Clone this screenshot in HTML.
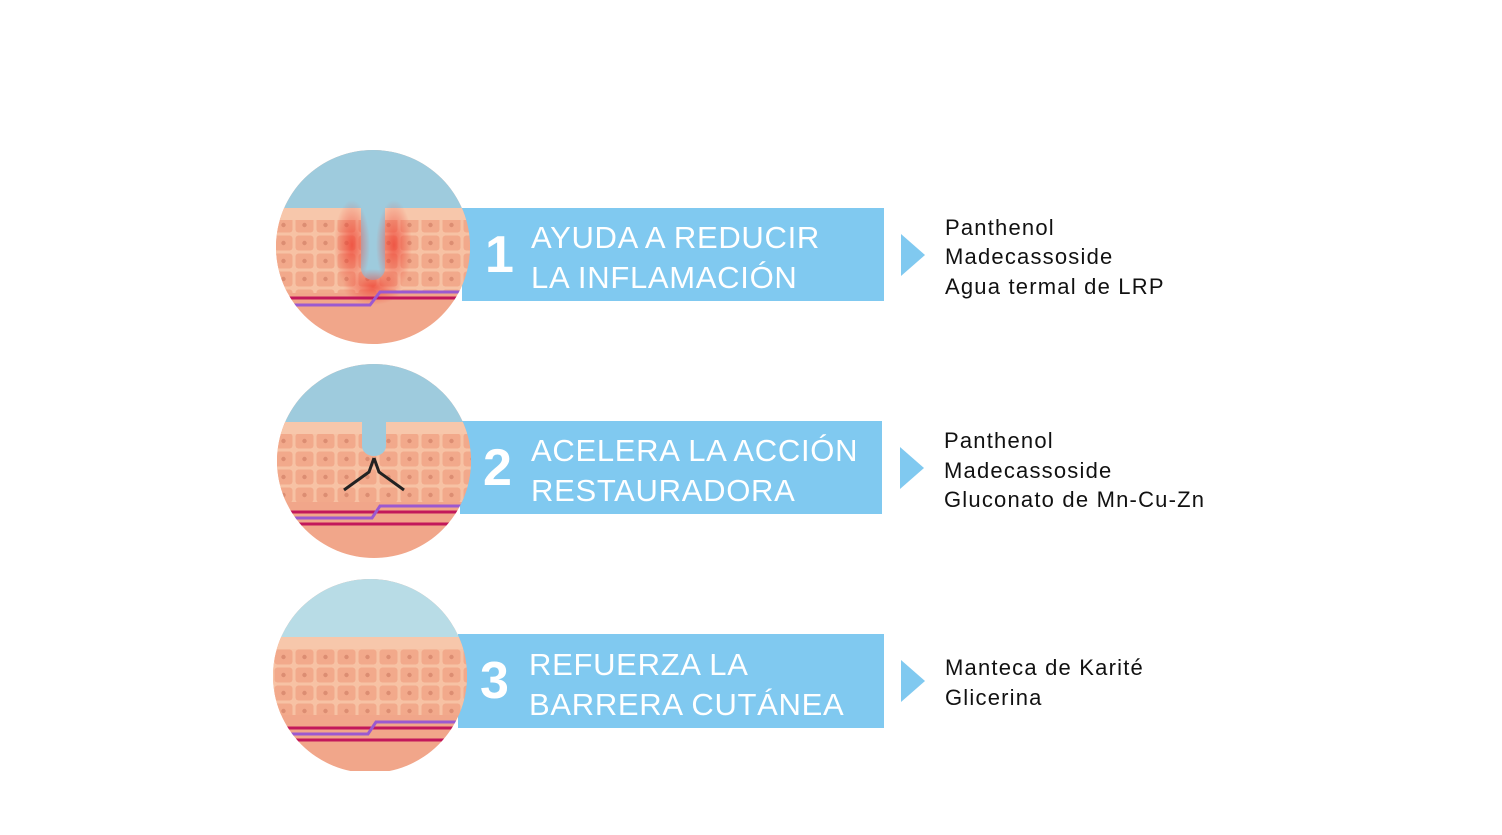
<!DOCTYPE html>
<html><head><meta charset="utf-8"><style>
html,body{margin:0;padding:0;background:#fff;}
svg{display:block}
</style></head><body>
<svg width="1502" height="835" viewBox="0 0 1502 835" xmlns="http://www.w3.org/2000/svg" font-family="Liberation Sans, sans-serif">
<defs>
<pattern id="cells" x="0" y="0" width="21" height="18" patternUnits="userSpaceOnUse">
<rect width="21" height="18" fill="#f7c2a4"/>
<rect x="1.5" y="1.5" width="18" height="15" rx="3" fill="#f2a98b"/>
<circle cx="10.5" cy="9" r="2.2" fill="#dc8d72"/>
</pattern>
<radialGradient id="red" cx="0.5" cy="0.5" r="0.5">
<stop offset="0" stop-color="#ee3b2e" stop-opacity="0.75"/>
<stop offset="1" stop-color="#ee3b2e" stop-opacity="0"/>
</radialGradient>
<clipPath id="c1"><circle cx="373" cy="247" r="97"/></clipPath>
<clipPath id="c2"><circle cx="374" cy="461" r="97"/></clipPath>
<clipPath id="c3"><circle cx="370" cy="676" r="97"/></clipPath>
</defs>

<rect x="462" y="208" width="422" height="93" fill="#80c9f0"/>
<rect x="460" y="421" width="422" height="93" fill="#80c9f0"/>
<rect x="458" y="634" width="426" height="94" fill="#80c9f0"/>

<g clip-path="url(#c1)">
<rect x="270" y="145" width="210" height="210" fill="#f1a68a"/>
<rect x="270" y="145" width="210" height="63" fill="#9ecbdd"/>
<rect x="270" y="208" width="210" height="85" fill="url(#cells)"/>
<rect x="270" y="208" width="210" height="12" fill="#f7c7ab"/>
<path d="M361 208 v60 a12 12 0 0 0 24 0 v-60 z" fill="#9ecbdd"/>
<ellipse cx="352" cy="245" rx="18" ry="45" fill="url(#red)"/>
<ellipse cx="394" cy="245" rx="18" ry="45" fill="url(#red)"/>
<ellipse cx="373" cy="287" rx="30" ry="18" fill="url(#red)"/>
<path d="M270 298 H480" stroke="#c2185b" stroke-width="3"/>
<path d="M270 305 H370 L380 292 H480" stroke="#9b59d0" stroke-width="3" fill="none"/>
</g>
<g clip-path="url(#c2)">
<rect x="270" y="360" width="210" height="210" fill="#f1a68a"/>
<rect x="270" y="360" width="210" height="62" fill="#9ecbdd"/>
<rect x="270" y="422" width="210" height="80" fill="url(#cells)"/>
<rect x="270" y="422" width="210" height="12" fill="#f7c7ab"/>
<path d="M362 422 v24 a12 10 0 0 0 24 0 v-24 z" fill="#9ecbdd"/>
<path d="M374 458 l-5 14 -25 18 M374 458 l5 14 25 18" stroke="#222" stroke-width="3" fill="none"/>
<path d="M270 512 H480 M270 524 H480" stroke="#c2185b" stroke-width="3"/>
<path d="M270 518 H372 L380 506 H480" stroke="#9b59d0" stroke-width="3" fill="none"/>
</g>
<g clip-path="url(#c3)">
<rect x="270" y="575" width="210" height="200" fill="#f1a68a"/>
<rect x="270" y="575" width="210" height="62" fill="#b8dce6"/>
<rect x="270" y="637" width="210" height="78" fill="url(#cells)"/>
<rect x="270" y="637" width="210" height="12" fill="#f7c7ab"/>
<path d="M270 728 H480 M270 740 H480" stroke="#c2185b" stroke-width="3"/>
<path d="M270 734 H368 L376 722 H480" stroke="#9b59d0" stroke-width="3" fill="none"/>
</g>
<rect x="260" y="771" width="230" height="20" fill="#fff"/>

<g fill="#fff">
<text x="485" y="272" font-size="52" font-weight="600">1</text>
<text x="531" y="248" font-size="31" letter-spacing="0.7">AYUDA A REDUCIR</text>
<text x="531" y="288" font-size="31" letter-spacing="0.7">LA INFLAMACIÓN</text>
<text x="483" y="485" font-size="52" font-weight="600">2</text>
<text x="531" y="461" font-size="31" letter-spacing="0.7">ACELERA LA ACCIÓN</text>
<text x="531" y="501" font-size="31" letter-spacing="0.7">RESTAURADORA</text>
<text x="480" y="698" font-size="52" font-weight="600">3</text>
<text x="529" y="675" font-size="31" letter-spacing="0.7">REFUERZA LA</text>
<text x="529" y="715" font-size="31" letter-spacing="0.7">BARRERA CUTÁNEA</text>
</g>

<g fill="#80c9f0">
<polygon points="901,234 925,255 901,276"/>
<polygon points="900,447 924,468 900,489"/>
<polygon points="901,660 925,681 901,702"/>
</g>

<g fill="#111" font-size="22" letter-spacing="1.2">
<text x="945" y="235">Panthenol</text>
<text x="945" y="264">Madecassoside</text>
<text x="945" y="294">Agua termal de LRP</text>
<text x="944" y="448">Panthenol</text>
<text x="944" y="478">Madecassoside</text>
<text x="944" y="507">Gluconato de Mn-Cu-Zn</text>
<text x="945" y="675">Manteca de Karité</text>
<text x="945" y="705">Glicerina</text>
</g>
</svg>
</body></html>
